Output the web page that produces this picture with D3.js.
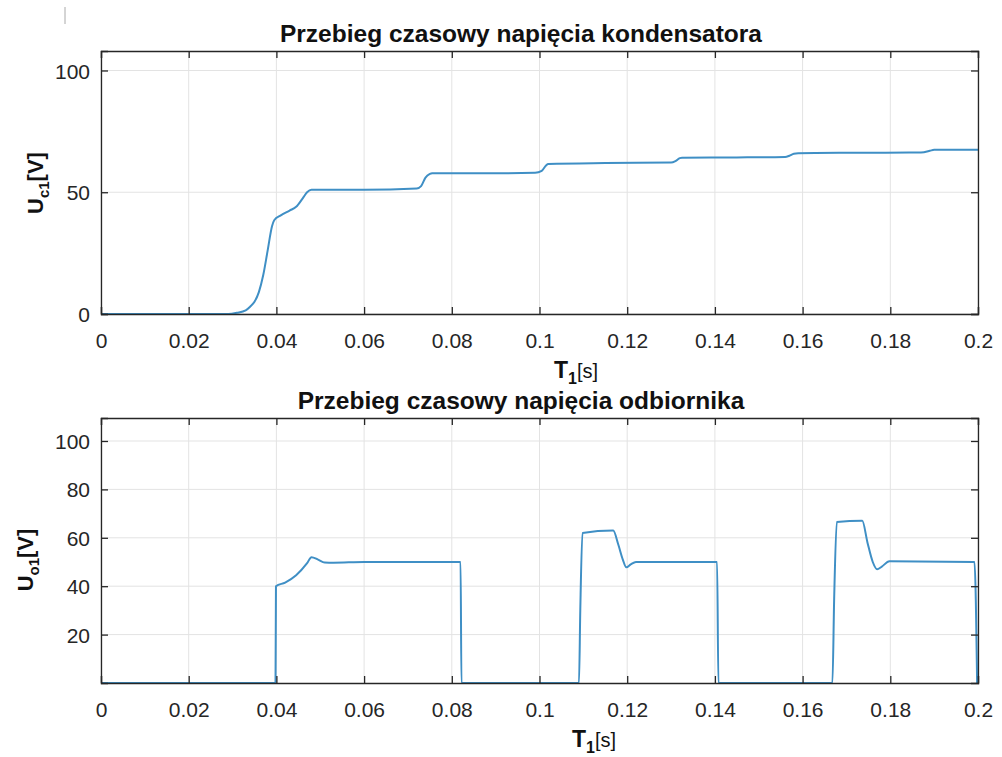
<!DOCTYPE html>
<html>
<head>
<meta charset="utf-8">
<script src="https://cdn.jsdelivr.net/npm/d3@7"></script>
<style>
  body { margin: 0; background: #fff; }
  svg { display: block; font-family: "Liberation Sans", Arial, sans-serif; }
</style>
</head>
<body>
<div id="chart"></div>
<script>
// data
var xTicks = [0, 0.02, 0.04, 0.06, 0.08, 0.1, 0.12, 0.14, 0.16, 0.18, 0.2];
var yTicksTop = [0, 50, 100];
var yTicksBottom = [20, 40, 60, 80, 100];

// napięcie kondensatora U_c1
var t_c1 = [0, 0.01, 0.02, 0.029, 0.031, 0.033, 0.034, 0.035, 0.036, 0.037, 0.038, 0.039, 0.0395,
  0.041, 0.043, 0.0445, 0.046, 0.047, 0.048, 0.06, 0.072, 0.073, 0.074, 0.075, 0.0755, 0.09, 0.099,
  0.1005, 0.1015, 0.102, 0.115, 0.13, 0.131, 0.132, 0.1325, 0.145, 0.156, 0.157, 0.158, 0.159,
  0.17, 0.187, 0.189, 0.19, 0.2];
var u_c1 = [0, 0, 0, 0, 0.5, 1.5, 3, 5, 9, 16, 26, 36, 38.5,
  40.5, 42.5, 44, 47.5, 50, 51, 51, 51.5, 52.5, 56, 57.5, 57.8, 57.8, 58,
  58.8, 61, 61.6, 62, 62.2, 62.8, 64, 64.2, 64.3, 64.5, 65, 65.8, 66,
  66.2, 66.3, 67, 67.5, 67.5];

// napięcie odbiornika U_o1
var t_o1 = [0, 0.0398, 0.0399, 0.042, 0.0445, 0.047, 0.048, 0.0495, 0.051, 0.053, 0.06, 0.082, 0.0822,
  0.109, 0.1093, 0.1098, 0.1168, 0.118, 0.119, 0.1198, 0.1208, 0.122, 0.1405, 0.1408,
  0.1668, 0.1672, 0.1678, 0.1736, 0.1748, 0.176, 0.177, 0.178, 0.1798, 0.1992, 0.1998];
var u_o1 = [0, 0, 40, 41.5, 44.5, 49.5, 52, 51, 49.8, 49.7, 50, 50, 0,
  0, 30, 62, 63, 57, 51, 47.8, 49, 50, 50, 0,
  0, 35, 66.5, 67, 58, 50, 47, 48, 50.3, 50, 0];

var W = 1002, H = 757;
var svg = d3.select("#chart").append("svg").attr("width", W).attr("height", H);

var lineColor = "#3f8fc5";

// little stray mark in the top-left corner
svg.append("line").attr("x1", 65).attr("x2", 65).attr("y1", 7).attr("y2", 24)
  .attr("stroke", "#aaa").attr("stroke-width", 1);

function drawPanel(opts) {
  var x = d3.scaleLinear().domain([0, 0.2]).range([101, 978]);
  var y = d3.scaleLinear().domain(opts.yDomain).range([opts.bottom, opts.top]);
  var g = svg.append("g");

  // grid
  g.selectAll(".gx").data(xTicks).join("line")
    .attr("x1", d => x(d)).attr("x2", d => x(d))
    .attr("y1", opts.top).attr("y2", opts.bottom)
    .attr("stroke", "#e3e3e3").attr("stroke-width", 1);
  g.selectAll(".gy").data(opts.yTicks).join("line")
    .attr("x1", 101).attr("x2", 978)
    .attr("y1", d => y(d)).attr("y2", d => y(d))
    .attr("stroke", "#e3e3e3").attr("stroke-width", 1);

  // curve
  var line = d3.line().x((d, i) => x(opts.t[i])).y(d => y(d)).curve(d3.curveMonotoneX);
  g.append("path").datum(opts.v)
    .attr("d", line)
    .attr("fill", "none")
    .attr("stroke", lineColor)
    .attr("stroke-width", 2)
    .attr("stroke-linejoin", "round");

  // axes, ticks pointing inwards, box on
  var tl = 7;
  var bottomAxis = d3.axisBottom(x).tickValues(xTicks).tickSize(-tl).tickFormat(d3.format("~g"));
  var topAxis = d3.axisTop(x).tickValues(xTicks).tickSize(-tl).tickFormat("");
  var leftAxis = d3.axisLeft(y).tickValues(opts.yTicks).tickSize(-tl).tickFormat(d3.format("d"));
  var rightAxis = d3.axisRight(y).tickValues(opts.yTicks).tickSize(-tl).tickFormat("");

  var gb = g.append("g").attr("transform", "translate(0," + opts.bottom + ")").call(bottomAxis);
  var gt = g.append("g").attr("transform", "translate(0," + opts.top + ")").call(topAxis);
  var gl = g.append("g").attr("transform", "translate(101,0)").call(leftAxis);
  var gr = g.append("g").attr("transform", "translate(978,0)").call(rightAxis);

  [gb, gt, gl, gr].forEach(function(a) {
    a.select(".domain").attr("stroke", "#262626").attr("stroke-width", 1.3);
    a.selectAll(".tick line").attr("stroke", "#262626").attr("stroke-width", 1.3);
    a.selectAll("text").attr("fill", "#262626").attr("font-size", 21)
      .attr("font-family", "Liberation Sans, Arial, sans-serif");
  });
  gb.selectAll(".tick text").attr("dy", null).attr("y", 34);
  gl.selectAll(".tick text").attr("x", -11).attr("dy", "0.36em");

  // title
  svg.append("text").attr("x", 521).attr("y", opts.titleY)
    .attr("text-anchor", "middle").attr("font-weight", "bold").attr("font-size", 24.5)
    .attr("fill", "#111").text(opts.title);

  // x label T1[s]
  var xl = svg.append("text").attr("x", opts.xLabelX).attr("y", opts.bottom + 64)
    .attr("text-anchor", "middle").attr("fill", "#111").attr("font-size", 23);
  xl.append("tspan").attr("font-weight", "bold").text("T");
  xl.append("tspan").attr("font-weight", "bold").attr("font-size", 16).attr("dy", 6).text("1");
  xl.append("tspan").attr("dy", -6).attr("font-size", 20).text("[s]");

  // y label
  var yl = svg.append("text").attr("transform", "translate(" + opts.yLabelX + "," + opts.yLabelY + ") rotate(-90)")
    .attr("text-anchor", "middle").attr("fill", "#111").attr("font-size", 22).attr("font-weight", "bold");
  yl.append("tspan").text("U");
  yl.append("tspan").attr("font-size", 15).attr("dy", 6).text(opts.sub);
  yl.append("tspan").attr("dy", -6).text("[V]");
}

drawPanel({
  top: 51, bottom: 314, yDomain: [0, 108], yTicks: yTicksTop,
  t: t_c1, v: u_c1, title: "Przebieg czasowy napięcia kondensatora",
  titleY: 42, sub: "c1", yLabelX: 43, yLabelY: 183, xLabelX: 576
});
drawPanel({
  top: 418, bottom: 683, yDomain: [0, 109.5], yTicks: yTicksBottom,
  t: t_o1, v: u_o1, title: "Przebieg czasowy napięcia odbiornika",
  titleY: 409, sub: "o1", yLabelX: 33, yLabelY: 560, xLabelX: 594
});
</script>
</body>
</html>
